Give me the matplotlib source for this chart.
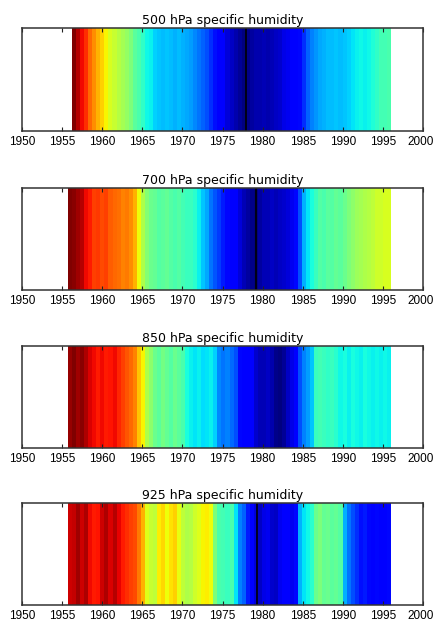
import numpy as np
import matplotlib
matplotlib.use("Agg")
import matplotlib.pyplot as plt
import matplotlib.transforms as mtransforms

# Normalised specific-humidity anomaly (0 = driest, 1 = moistest), half-year steps
titles = ["500 hPa specific humidity", "700 hPa specific humidity",
          "850 hPa specific humidity", "925 hPa specific humidity"]

span_500 = (1956.25, 1996.0)
q500 = [1.0, 0.95, 0.9, 0.86, 0.8, 0.76, 0.72, 0.69, 0.65, 0.61,
        0.59, 0.57, 0.55, 0.53, 0.5, 0.46, 0.44, 0.41, 0.37, 0.36,
        0.33, 0.32, 0.31, 0.32, 0.31, 0.3, 0.31, 0.3, 0.29, 0.28,
        0.26, 0.24, 0.22, 0.2, 0.17, 0.14, 0.12, 0.11, 0.08, 0.06,
        0.04, 0.02, 0.0, 0.01, 0.03, 0.04, 0.04, 0.05, 0.04, 0.05,
        0.06, 0.07, 0.09, 0.1, 0.11, 0.12, 0.13, 0.17, 0.22, 0.25,
        0.27, 0.29, 0.3, 0.31, 0.31, 0.32, 0.31, 0.32, 0.33, 0.35,
        0.36, 0.37, 0.36, 0.37, 0.39, 0.41, 0.43, 0.43, 0.44]

span_700 = (1955.75, 1996.0)
q700 = [1.0, 0.99, 0.97, 0.95, 0.9, 0.88, 0.84, 0.85, 0.83, 0.84,
        0.81, 0.8, 0.79, 0.77, 0.78, 0.76, 0.72, 0.64, 0.56, 0.51,
        0.48, 0.47, 0.45, 0.46, 0.47, 0.45, 0.44, 0.45, 0.43, 0.42,
        0.42, 0.4, 0.36, 0.32, 0.29, 0.24, 0.21, 0.18, 0.15, 0.13,
        0.12, 0.11, 0.08, 0.05, 0.03, 0.01, 0.0, 0.03, 0.05, 0.05,
        0.06, 0.05, 0.06, 0.07, 0.08, 0.1, 0.13, 0.2, 0.3, 0.35,
        0.38, 0.42, 0.45, 0.44, 0.46, 0.45, 0.47, 0.46, 0.48, 0.5,
        0.52, 0.54, 0.55, 0.56, 0.57, 0.58, 0.6, 0.6, 0.61, 0.61]

span_850 = (1955.75, 1996.0)
q850 = [0.98, 1.0, 0.97, 0.99, 0.96, 0.92, 0.9, 0.88, 0.9, 0.88,
        0.89, 0.9, 0.87, 0.84, 0.82, 0.8, 0.77, 0.7, 0.65, 0.56,
        0.52, 0.48, 0.46, 0.49, 0.47, 0.45, 0.48, 0.46, 0.44, 0.38,
        0.36, 0.35, 0.36, 0.34, 0.35, 0.36, 0.33, 0.26, 0.24, 0.25,
        0.23, 0.2, 0.13, 0.12, 0.11, 0.12, 0.07, 0.05, 0.05, 0.06,
        0.04, 0.01, 0.0, 0.02, 0.06, 0.09, 0.12, 0.2, 0.25, 0.28,
        0.32, 0.42, 0.43, 0.42, 0.41, 0.42, 0.4, 0.37, 0.38, 0.36,
        0.38, 0.37, 0.36, 0.38, 0.37, 0.36, 0.37, 0.36, 0.37, 0.36]

span_925 = (1955.75, 1996.0)
q925 = [0.93, 0.94, 0.97, 0.93, 0.96, 0.9, 0.88, 0.89, 0.93, 0.96,
        0.92, 0.95, 0.91, 0.88, 0.86, 0.84, 0.83, 0.78, 0.72, 0.62,
        0.59, 0.58, 0.66, 0.68, 0.64, 0.67, 0.69, 0.63, 0.58, 0.56,
        0.57, 0.6, 0.62, 0.65, 0.66, 0.64, 0.5, 0.44, 0.43, 0.42,
        0.44, 0.35, 0.25, 0.22, 0.15, 0.12, 0.08, 0.06, 0.09, 0.1,
        0.07, 0.06, 0.1, 0.11, 0.12, 0.1, 0.13, 0.3, 0.35, 0.37,
        0.4, 0.48, 0.5, 0.47, 0.48, 0.46, 0.47, 0.45, 0.3, 0.24,
        0.2, 0.17, 0.14, 0.15, 0.13, 0.12, 0.13, 0.12, 0.12, 0.13]

# Year of the minimum marked by a vertical line in each panel
marker_years = [1977.95, 1979.2, None, 1979.35]

xticks = list(range(1950, 2001, 5))

series = [(span_500, q500), (span_700, q700), (span_850, q850), (span_925, q925)]

fig = plt.figure(figsize=(4.34, 6.23), dpi=100)
# [left, bottom, width, height] in figure fractions
boxes = [[0.0507, 0.7897, 0.924, 0.1653],
         [0.0507, 0.5345, 0.924, 0.1637],
         [0.0507, 0.2809, 0.924, 0.1637],
         [0.0507, 0.0290, 0.924, 0.1637]]

tick_font = ["Liberation Sans Narrow", "DejaVu Sans Condensed", "Liberation Sans"]

for box, title, (span, vals), myear in zip(boxes, titles, series, marker_years):
    ax = fig.add_axes(box)
    vals = np.asarray(vals, dtype=float)
    edges = np.linspace(span[0], span[1], len(vals) + 1)
    ax.pcolormesh(edges, [0.0, 1.0], vals[np.newaxis, :], cmap="jet",
                  vmin=0.0, vmax=1.0, shading="flat", antialiased=False)
    if myear is not None:
        ax.axvline(myear, color="black", lw=1.2)
    ax.set_xlim(1950, 2000)
    ax.set_ylim(0, 1)
    ax.set_yticks([])
    ax.set_xticks(xticks)
    labels = ax.set_xticklabels([str(t) for t in xticks], family=tick_font,
                                fontsize=8.5)
    ax.tick_params(axis="x", direction="in", length=3, width=0.8,
                   top=True, bottom=True, pad=3.5, colors="#222222",
                   labelcolor="black")
    # keep the right-most year label inside the canvas
    shift = mtransforms.ScaledTranslation(-2.5 / 100, 0, fig.dpi_scale_trans)
    labels[-1].set_transform(labels[-1].get_transform() + shift)
    for sp in ax.spines.values():
        sp.set_color("#333333")
        sp.set_linewidth(1.1)
    ax.set_title(title, fontsize=9, pad=3, family="DejaVu Sans")

fig.savefig("out.png", dpi=100)
